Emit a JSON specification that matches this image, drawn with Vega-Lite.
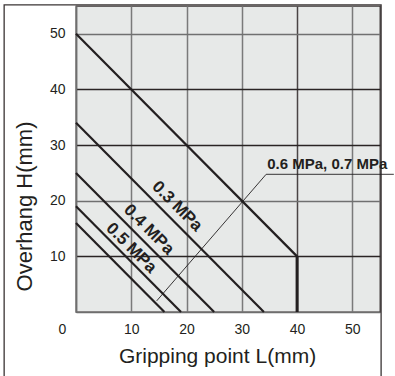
{
  "$schema": "https://vega.github.io/schema/vega-lite/v6.json",
  "width": 304,
  "height": 306,
  "autosize": {"type": "none"},
  "padding": {"left": 76, "top": 6, "right": 15, "bottom": 64},
  "background": "white",
  "config": {
    "view": {"fill": "#e7e9e8", "stroke": "#3a3434", "strokeWidth": 1.3},
    "font": "Liberation Sans"
  },
  "datasets": {
    "curves": [
      {"series": "limit", "L": 0, "H": 50},
      {"series": "limit", "L": 40, "H": 10},
      {"series": "p03", "L": 0, "H": 34},
      {"series": "p03", "L": 34, "H": 0},
      {"series": "p04", "L": 0, "H": 25},
      {"series": "p04", "L": 25, "H": 0},
      {"series": "p05", "L": 0, "H": 19},
      {"series": "p05", "L": 19, "H": 0},
      {"series": "p067", "L": 0, "H": 16},
      {"series": "p067", "L": 16, "H": 0}
    ],
    "vertical": [{"L": 40, "H": 0, "H2": 10}],
    "leader": [
      {"L": 14.6, "H": 2.0},
      {"L": 34.4, "H": 24.75},
      {"L": 57.5, "H": 24.75}
    ],
    "labels": [
      {"text": "0.3 MPa", "L": 18.3, "H": 19.0},
      {"text": "0.4 MPa", "L": 13.2, "H": 14.8},
      {"text": "0.5 MPa", "L": 10.0, "H": 11.5}
    ],
    "callout": [{"text": "0.6 MPa, 0.7 MPa", "L": 34.6, "H": 25.7}],
    "frame": [{"L": -13, "L2": 55.2, "H": -13, "H2": 55.2}]
  },
  "encoding": {
    "x": {
      "field": "L",
      "type": "quantitative",
      "scale": {"domain": [0, 55], "nice": false, "zero": false},
      "axis": {
        "values": [0, 10, 20, 30, 40, 50],
        "title": "Gripping point L(mm)",
        "titleFontSize": 21,
        "titleFontWeight": "normal",
        "titleColor": "#231f20",
        "titleX": 141,
        "titleY": 50,
        "titleBaseline": "alphabetic",
        "titleAlign": "center",
        "labelFontSize": 14,
        "labelColor": "#231f20",
        "labelPadding": 10,
        "labelFlush": false,
        "ticks": false,
        "labelOffset": {"condition": {"test": "datum.value === 0", "value": -14}, "value": 0},
        "domainColor": "#6e6e6e",
        "domainWidth": 1.5,
        "gridColor": {"condition": {"test": "datum.value === 40", "value": "#4a4444"}, "value": "#7a7a7a"},
        "gridWidth": 1.5
      }
    },
    "y": {
      "field": "H",
      "type": "quantitative",
      "scale": {"domain": [0, 55], "nice": false, "zero": false},
      "axis": {
        "values": [10, 20, 30, 40, 50],
        "title": "Overhang H(mm)",
        "titleFontSize": 22,
        "titleFontWeight": "normal",
        "titleColor": "#231f20",
        "titleAngle": -90,
        "titleX": -45,
        "titleY": 200,
        "titleBaseline": "alphabetic",
        "titleAlign": "center",
        "labelFontSize": 14,
        "labelColor": "#231f20",
        "labelPadding": 11,
        "ticks": false,
        "domainColor": "#6e6e6e",
        "domainWidth": 1.5,
        "gridColor": {"condition": {"test": "datum.value === 10 || datum.value === 30 || datum.value === 40", "value": "#2a2424"}, "value": "#707070"},
        "gridWidth": 1.4
      }
    }
  },
  "layer": [
    {
      "data": {"name": "frame"},
      "mark": {"type": "rect", "fill": null, "fillOpacity": 0, "stroke": "#3a3434", "strokeWidth": 1.3, "clip": false},
      "encoding": {"x2": {"field": "L2"}, "y2": {"field": "H2"}}
    },
    {
      "data": {"name": "curves"},
      "mark": {"type": "line", "color": "#231f20", "strokeWidth": 2.2},
      "encoding": {"detail": {"field": "series"}}
    },
    {
      "data": {"name": "vertical"},
      "mark": {"type": "rule", "color": "#231f20", "strokeWidth": 3},
      "encoding": {"y2": {"field": "H2"}}
    },
    {
      "data": {"name": "leader"},
      "mark": {"type": "line", "color": "#231f20", "strokeWidth": 0.9, "clip": false},
      "encoding": {}
    },
    {
      "data": {"name": "labels"},
      "mark": {"type": "text", "angle": 45, "align": "center", "baseline": "middle", "font": "Liberation Sans", "fontWeight": "bold", "fontSize": 17, "color": "#231f20"},
      "encoding": {"text": {"field": "text"}}
    },
    {
      "data": {"name": "callout"},
      "mark": {"type": "text", "align": "left", "baseline": "alphabetic", "font": "Liberation Sans", "fontWeight": "bold", "fontSize": 15, "color": "#231f20", "clip": false},
      "encoding": {"text": {"field": "text"}}
    }
  ]
}
